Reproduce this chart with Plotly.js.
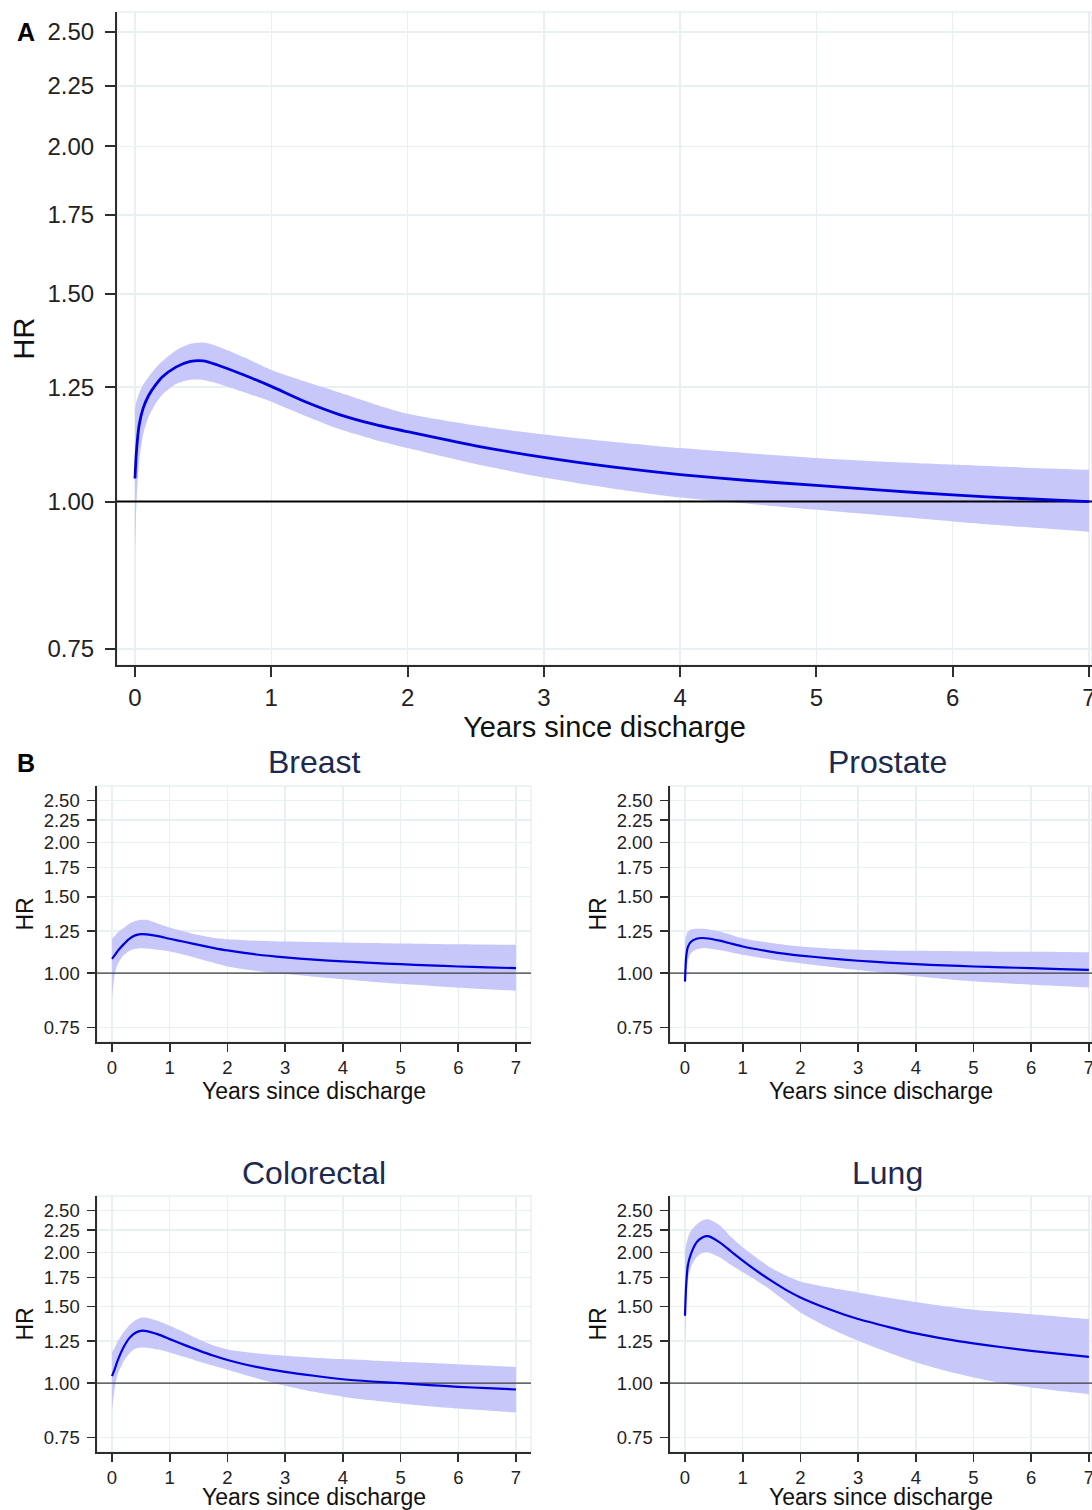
<!DOCTYPE html>
<html>
<head>
<meta charset="utf-8">
<script src="https://cdn.plot.ly/plotly-3.0.1.min.js"></script>
<style>html,body{margin:0;padding:0;background:#fff;}#chart{width:1092px;height:1510px;}</style>
</head>
<body>
<div id="chart"></div>
<script>
// ---------------- DATA ----------------
// Panel A: all cancers
const yearsA = [0, 0.01, 0.03, 0.06, 0.1, 0.15, 0.2, 0.3, 0.4, 0.5, 0.6, 0.8, 1, 1.25, 1.5, 1.75, 2, 2.5, 3, 3.5, 4, 4.5, 5, 5.5, 6, 6.5, 7];
const hrA    = [1.046, 1.10, 1.16, 1.20, 1.23, 1.255, 1.275, 1.30, 1.314, 1.316, 1.306, 1.28, 1.252, 1.215, 1.185, 1.163, 1.146, 1.115, 1.09, 1.07, 1.054, 1.042, 1.032, 1.022, 1.013, 1.006, 1.0];
const upperA = [1.197, 1.215, 1.235, 1.256, 1.275, 1.297, 1.315, 1.343, 1.36, 1.364, 1.355, 1.325, 1.293, 1.264, 1.237, 1.21, 1.187, 1.16, 1.14, 1.124, 1.11, 1.099, 1.089, 1.081, 1.075, 1.069, 1.064];
const lowerA = [0.90, 0.99, 1.08, 1.14, 1.18, 1.21, 1.232, 1.258, 1.268, 1.268, 1.26, 1.238, 1.215, 1.182, 1.152, 1.129, 1.11, 1.076, 1.048, 1.026, 1.008, 0.996, 0.984, 0.973, 0.962, 0.952, 0.943];

// Panel B: by cancer site
const yearsBreast = [0, 0.05, 0.1, 0.2, 0.3, 0.4, 0.5, 0.6, 0.8, 1, 1.25, 1.5, 1.75, 2, 2.5, 3, 3.5, 4, 4.5, 5, 5.5, 6, 6.5, 7];
const hrBreast    = [1.079, 1.10, 1.125, 1.165, 1.20, 1.222, 1.23, 1.228, 1.217, 1.20, 1.181, 1.162, 1.144, 1.128, 1.104, 1.087, 1.074, 1.064, 1.056, 1.049, 1.042, 1.036, 1.031, 1.027];
const upperBreast = [1.20, 1.22, 1.24, 1.27, 1.30, 1.318, 1.327, 1.327, 1.30, 1.274, 1.248, 1.224, 1.207, 1.197, 1.188, 1.183, 1.18, 1.177, 1.173, 1.17, 1.168, 1.166, 1.164, 1.162];
const lowerBreast = [0.875, 1.0, 1.05, 1.10, 1.125, 1.138, 1.142, 1.14, 1.132, 1.122, 1.102, 1.08, 1.058, 1.036, 1.012, 0.995, 0.981, 0.968, 0.956, 0.945, 0.935, 0.926, 0.918, 0.911];

const yearsProstate = [0, 0.02, 0.05, 0.1, 0.2, 0.3, 0.4, 0.6, 0.8, 1, 1.25, 1.5, 1.75, 2, 2.5, 3, 3.5, 4, 4.5, 5, 5.5, 6, 6.5, 7];
const hrProstate    = [0.957, 1.09, 1.15, 1.18, 1.20, 1.205, 1.202, 1.188, 1.17, 1.152, 1.135, 1.12, 1.108, 1.098, 1.082, 1.068, 1.058, 1.049, 1.042, 1.036, 1.031, 1.027, 1.022, 1.018];
const upperProstate = [1.18, 1.22, 1.245, 1.26, 1.265, 1.265, 1.262, 1.247, 1.225, 1.204, 1.187, 1.173, 1.161, 1.152, 1.14, 1.132, 1.128, 1.126, 1.124, 1.122, 1.121, 1.12, 1.119, 1.118];
const lowerProstate = [0.94, 1.0, 1.07, 1.11, 1.135, 1.142, 1.14, 1.13, 1.116, 1.102, 1.088, 1.075, 1.064, 1.054, 1.035, 1.017, 1.0, 0.984, 0.97, 0.958, 0.949, 0.941, 0.934, 0.927];

const yearsColorectal = [0, 0.05, 0.1, 0.2, 0.3, 0.4, 0.5, 0.6, 0.8, 1, 1.25, 1.5, 1.75, 2, 2.5, 3, 3.5, 4, 4.5, 5, 5.5, 6, 6.5, 7];
const hrColorectal    = [1.038, 1.08, 1.13, 1.21, 1.27, 1.305, 1.32, 1.318, 1.295, 1.263, 1.225, 1.19, 1.158, 1.131, 1.09, 1.062, 1.04, 1.021, 1.009, 1.0, 0.99, 0.981, 0.974, 0.967];
const upperColorectal = [1.177, 1.21, 1.25, 1.31, 1.36, 1.395, 1.415, 1.415, 1.39, 1.356, 1.31, 1.262, 1.222, 1.196, 1.172, 1.156, 1.145, 1.136, 1.128, 1.12, 1.113, 1.106, 1.098, 1.09];
const lowerColorectal = [0.863, 0.98, 1.05, 1.12, 1.17, 1.20, 1.208, 1.207, 1.195, 1.177, 1.15, 1.122, 1.098, 1.074, 1.027, 0.987, 0.955, 0.931, 0.913, 0.898, 0.885, 0.874, 0.865, 0.856];

const yearsLung = [0, 0.02, 0.05, 0.1, 0.2, 0.3, 0.4, 0.6, 0.8, 1, 1.25, 1.5, 1.75, 2, 2.5, 3, 3.5, 4, 4.5, 5, 5.5, 6, 6.5, 7];
const hrLung    = [1.43, 1.68, 1.87, 1.98, 2.11, 2.165, 2.18, 2.11, 2.01, 1.915, 1.81, 1.72, 1.64, 1.576, 1.48, 1.405, 1.35, 1.302, 1.265, 1.235, 1.21, 1.187, 1.168, 1.15];
const upperLung = [2.0, 2.08, 2.16, 2.24, 2.32, 2.37, 2.385, 2.31, 2.17, 2.055, 1.94, 1.84, 1.77, 1.715, 1.66, 1.618, 1.575, 1.537, 1.503, 1.476, 1.458, 1.441, 1.423, 1.405];
const lowerLung = [1.2, 1.5, 1.72, 1.85, 1.95, 1.995, 2.0, 1.95, 1.87, 1.80, 1.72, 1.633, 1.54, 1.455, 1.34, 1.252, 1.18, 1.118, 1.07, 1.031, 1.0, 0.977, 0.959, 0.943];

const panelTitles = ["Breast", "Prostate", "Colorectal", "Lung"];
const hrTickVals = [0.75, 1.00, 1.25, 1.50, 1.75, 2.00, 2.25, 2.50];
const hrTickText = ["0.75", "1.00", "1.25", "1.50", "1.75", "2.00", "2.25", "2.50"];
const yearTicks = [0, 1, 2, 3, 4, 5, 6, 7];
const refHR = 1.0;
const xTitle = "Years since discharge";
const yTitle = "HR";

// ---------------- STYLE / LAYOUT ----------------
const W = 1092, H = 1510;
const FONT = "Liberation Sans, Arial, Helvetica, sans-serif";
const BAND = "rgb(199,199,250)";
const CURVE = "rgb(0,0,222)";
const GRID = "rgb(233,240,242)";
const AXIS = "rgb(45,45,45)";
const TITLE_COL = "rgb(28,42,80)";
const SMOOTH = 0.7;

function px2x(p){ return p / W; }
function px2y(p){ return 1 - p / H; }

const panels = [
  {id:"", years:yearsA, hr:hrA, up:upperA, lo:lowerA, big:true,
   xd:[117,1092], yd:[12,665], xr:[-0.132,7.022], yr:[-0.1385,0.4149]},
  {id:"2", years:yearsBreast, hr:hrBreast, up:upperBreast, lo:lowerBreast,
   xd:[97,531], yd:[786,1042], xr:[-0.26,7.26], yr:[-0.1585,0.431]},
  {id:"3", years:yearsProstate, hr:hrProstate, up:upperProstate, lo:lowerProstate,
   xd:[670,1092], yd:[786,1042], xr:[-0.26,7.054], yr:[-0.1585,0.431]},
  {id:"4", years:yearsColorectal, hr:hrColorectal, up:upperColorectal, lo:lowerColorectal,
   xd:[97,531], yd:[1196,1452], xr:[-0.26,7.26], yr:[-0.1585,0.431]},
  {id:"5", years:yearsLung, hr:hrLung, up:upperLung, lo:lowerLung,
   xd:[670,1092], yd:[1196,1452], xr:[-0.26,7.054], yr:[-0.1585,0.431]}
];

const traces = [];
const layout = {
  width: W, height: H,
  margin: {l:0, r:0, t:0, b:0},
  paper_bgcolor: "#fff", plot_bgcolor: "#fff",
  showlegend: false,
  font: {family: FONT, color: "#222"},
  shapes: [], annotations: []
};

panels.forEach((p, i) => {
  const xa = "x" + p.id, ya = "y" + p.id;
  const big = !!p.big;
  traces.push({x:p.years, y:p.lo, xaxis:xa, yaxis:ya, type:"scatter", mode:"lines",
    line:{width:0, shape:"spline", smoothing:SMOOTH, color:BAND}, hoverinfo:"skip"});
  traces.push({x:p.years, y:p.up, xaxis:xa, yaxis:ya, type:"scatter", mode:"lines",
    fill:"tonexty", fillcolor:BAND,
    line:{width:0, shape:"spline", smoothing:SMOOTH, color:BAND}, hoverinfo:"skip"});
  traces.push({x:[p.xr[0], p.xr[1]], y:[refHR, refHR], xaxis:xa, yaxis:ya, type:"scatter", mode:"lines",
    line:{width: big ? 2 : 1.4, color: big ? "#000" : "rgb(60,60,60)"}, hoverinfo:"skip"});
  traces.push({x:p.years, y:p.hr, xaxis:xa, yaxis:ya, type:"scatter", mode:"lines",
    line:{width: big ? 2.8 : 2.2, color:CURVE, shape:"spline", smoothing:SMOOTH}});

  const tickFont = {family:FONT, size: big ? 24 : 18.5, color:"#222"};
  const titleFont = {family:FONT, size: big ? 29 : 23, color:"#111"};
  const xkey = "xaxis" + p.id, ykey = "yaxis" + p.id;
  layout[xkey] = {
    domain:[px2x(p.xd[0]), px2x(p.xd[1])], anchor: ya,
    range:p.xr, tickvals:yearTicks, ticktext:yearTicks.map(String),
    showgrid:true, gridcolor:GRID, gridwidth:1.5, zeroline:false,
    showline:true, linecolor:AXIS, linewidth: big ? 2 : 1.6,
    ticks:"outside", ticklen: big ? 10 : 8, tickwidth: big ? 2 : 1.6, tickcolor:AXIS,
    tickfont:tickFont, ticklabelstandoff: 0, ticklabeloverflow:"allow",
    title:{text:xTitle, font:titleFont, standoff: 0},
    fixedrange:true
  };
  layout[ykey] = {
    domain:[px2y(p.yd[1]), px2y(p.yd[0])], anchor: xa,
    type:"log", range:p.yr, tickvals:hrTickVals, ticktext:hrTickText,
    showgrid:true, gridcolor:GRID, gridwidth:1.5, zeroline:false,
    showline:true, linecolor:AXIS, linewidth: big ? 2 : 1.6,
    ticks:"outside", ticklen: big ? 10 : 8, tickwidth: big ? 2 : 1.6, tickcolor:AXIS,
    tickfont:tickFont, ticklabelstandoff: big ? 6 : 4,
    title:{text:yTitle, font:titleFont, standoff: big ? 4 : 3},
    fixedrange:true
  };
  // light plot-region border (top / right)
  layout.shapes.push({type:"rect", xref:xa + " domain", yref:ya + " domain",
    x0:0, x1:1, y0:0, y1:1, line:{color:GRID, width:1.5}, layer:"below"});
});

// subplot titles
const titlePos = [[314, 762], [887, 762], [314, 1173], [887, 1173]];
panelTitles.forEach((t, i) => {
  layout.annotations.push({text:t, xref:"paper", yref:"paper",
    x:px2x(titlePos[i][0]), y:px2y(titlePos[i][1]), xanchor:"center", yanchor:"middle",
    showarrow:false, font:{family:FONT, size:32, color:TITLE_COL}});
});
// panel letters
layout.annotations.push({text:"<b>A</b>", xref:"paper", yref:"paper", x:px2x(26), y:px2y(32),
  xanchor:"center", yanchor:"middle", showarrow:false, font:{family:FONT, size:25, color:"#000"}});
layout.annotations.push({text:"<b>B</b>", xref:"paper", yref:"paper", x:px2x(26), y:px2y(763),
  xanchor:"center", yanchor:"middle", showarrow:false, font:{family:FONT, size:25, color:"#000"}});

Plotly.newPlot("chart", traces, layout, {staticPlot:true, displayModeBar:false});
</script>
</body>
</html>
